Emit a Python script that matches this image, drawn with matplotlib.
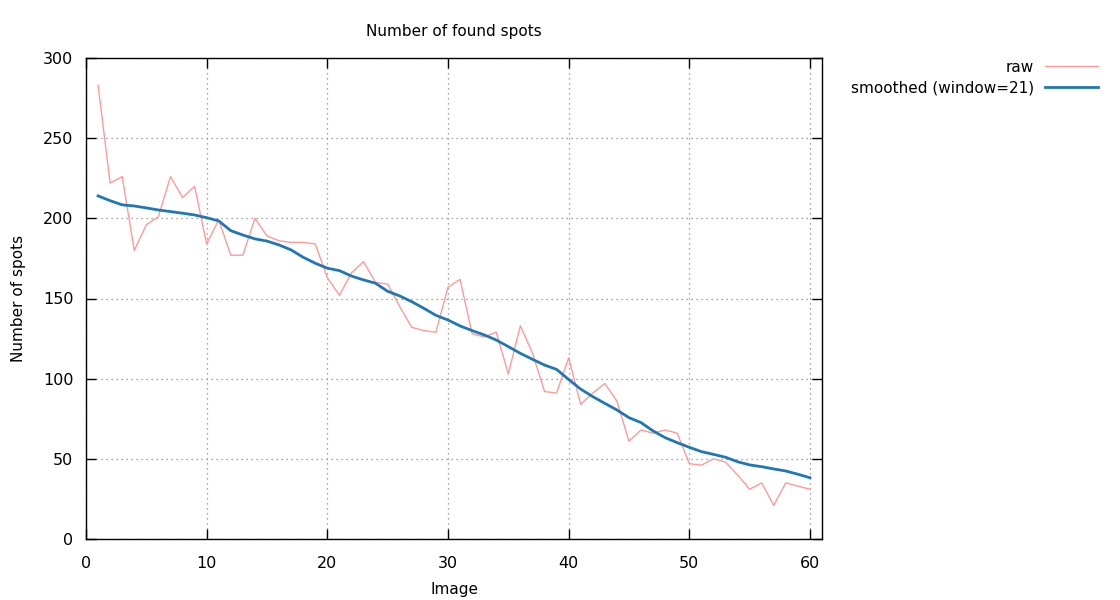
import numpy as np
import matplotlib.pyplot as plt
from matplotlib.ticker import MultipleLocator

# values
image = np.arange(1, 61)
raw = [283, 222, 226, 180, 196, 201, 226, 213, 220, 184,
       199, 177, 177, 200, 189, 186, 185, 185, 184, 163,
       152, 166, 173, 160, 159, 145, 132, 130, 129, 157,
       162, 128, 126, 129, 103, 133, 116, 92, 91, 113,
       84, 91, 97, 86, 61, 68, 66, 68, 66, 47,
       46, 50, 48, 40, 31, 35, 21, 35, 33, 31]
smoothed = [214, 211, 208.4, 207.7, 206.5, 205.2, 204.2, 203.2, 202.1, 200.4,
            198.4, 192.3, 189.6, 187.2, 185.8, 183.4, 180.3, 175.7, 172, 168.9,
            167.4, 164, 161.6, 159.5, 154.5, 151.6, 148, 143.9, 139.5, 136.6,
            132.9, 130, 127.3, 124.1, 120, 115.8, 112.1, 108.5, 105.8, 99.5,
            93.5, 88.8, 84.6, 80.5, 75.7, 72.6, 67.4, 63.2, 60.1, 57.2,
            54.5, 52.8, 51, 48.2, 46.2, 45.1, 43.7, 42.4, 40.4, 38.2]

plt.rcParams['font.family'] = 'DejaVu Sans'
plt.rcParams['font.size'] = 10.5

fig = plt.figure(figsize=(11.2, 6), dpi=100)
ax = fig.add_axes([86/1120, 1 - 539/600, (822-86)/1120, (539-58)/600])

ax.plot(image, raw, color='#ff9a9a', lw=1.0, label='raw')
ax.plot(image, smoothed, color='#1f77b4', lw=2.0, label='smoothed (window=21)')

ax.set_xlim(0, 61)
ax.set_ylim(0, 300)
ax.xaxis.set_major_locator(MultipleLocator(10))
ax.yaxis.set_major_locator(MultipleLocator(50))
ax.grid(True, color='#888888', linestyle=(0, (1, 3)), lw=0.9)
ax.tick_params(direction='in', top=True, right=True, length=7, width=1,
               labelsize=11.5)
ax.tick_params(axis='x', pad=12)
ax.tick_params(axis='y', pad=9)
for s in ax.spines.values():
    s.set_linewidth(1)

ax.set_title('Number of found spots', fontsize=11, pad=16)
ax.set_xlabel('Image', fontsize=11, labelpad=8)
ax.set_ylabel('Number of spots', fontsize=11, labelpad=12)

leg = ax.legend(loc='upper right', bbox_to_anchor=(1112/1120, 1 - 46/600),
                bbox_transform=fig.transFigure, frameon=False,
                markerfirst=False, handlelength=3.5, handletextpad=0.7,
                labelspacing=0.35, fontsize=11)
for t in leg.get_texts():
    t.set_ha('right')

fig.savefig('out.png', dpi=100)
